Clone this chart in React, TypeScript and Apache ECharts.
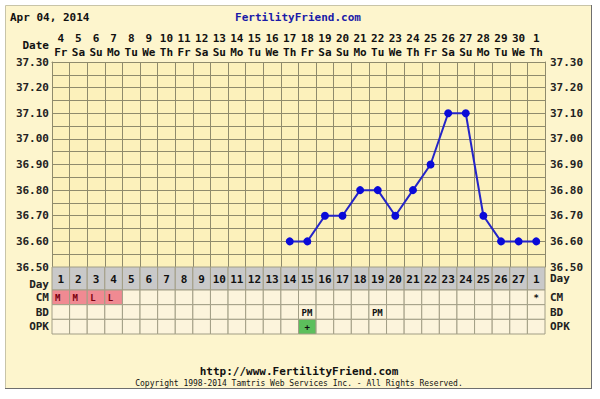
import React, { useEffect, useRef } from 'react';
import * as echarts from 'echarts';

const dates = ['4','5','6','7','8','9','10','11','12','13','14','15','16','17','18','19','20','21','22','23','24','25','26','27','28','29','30','1'];
const weekdays = ['Fr','Sa','Su','Mo','Tu','We','Th','Fr','Sa','Su','Mo','Tu','We','Th','Fr','Sa','Su','Mo','Tu','We','Th','Fr','Sa','Su','Mo','Tu','We','Th'];
const cycleDays = ['1','2','3','4','5','6','7','8','9','10','11','12','13','14','15','16','17','18','19','20','21','22','23','24','25','26','27','1'];
const temps: (number | null)[] = [null,null,null,null,null,null,null,null,null,null,null,null,null,36.6,36.6,36.7,36.7,36.8,36.8,36.7,36.8,36.9,37.1,37.1,36.7,36.6,36.6,36.6];
const cm = ['M','M','L','L','','','','','','','','','','','','','','','','','','','','','','','','*'];
const bd = ['','','','','','','','','','','','','','','PM','','','','PM','','','','','','','','',''];
const opk = ['','','','','','','','','','','','','','','+','','','','','','','','','','','','',''];
const rowNames = ['CM','BD','OPK'];

const FONT = 'DejaVu Sans Mono';
const GRIDC = '#8f8b6c';

export default function App() {
  const ref = useRef<HTMLDivElement>(null);
  useEffect(() => {
    document.body.style.margin = '0';
    const chart = echarts.init(ref.current!, null, { renderer: 'svg' });

    const dayCells = cycleDays.map((d, i) => ({ text: d, fill: '#c9c9c9', color: '#111', center: true }));
    const lowerCells: any[] = [];
    const lowerData: number[][] = [];
    [cm, bd, opk].forEach((row, r) => {
      row.forEach((t, i) => {
        let fill = '#fcf4dc';
        let color = '#111';
        if (r === 0 && t && t !== '*') { fill = '#f08a92'; color = '#7a0010'; }
        if (r === 2 && t) { fill = '#5cbf5c'; }
        lowerCells.push({ text: t, fill, color, center: t === '*' || t === '+' });
        lowerData.push([i, r]);
      });
    });

    const makeRender = (cells: any[], fontSize: number) => (params: any, api: any) => {
      const c = api.coord([api.value(0), api.value(1)]);
      const s = api.size([1, 1]);
      const cell = cells[params.dataIndex];
      const x0 = c[0] - s[0] / 2;
      const y0 = c[1] - s[1] / 2;
      return {
        type: 'group',
        children: [
          { type: 'rect', shape: { x: x0, y: y0, width: s[0], height: s[1] }, style: { fill: cell.fill, stroke: '#a29e86', lineWidth: 1 } },
          { type: 'text', style: { text: cell.text, x: cell.center ? c[0] : x0 + 3, y: c[1] + 0.5, align: cell.center ? 'center' : 'left', verticalAlign: 'middle', fontFamily: FONT, fontWeight: 'bold', fontSize, fill: cell.color } },
        ],
      };
    };

    const lblStyle = { fontFamily: FONT, fontWeight: 'bold' as const, fontSize: 11, color: '#222' };
    const yLabel = (v: number) => (Math.round(v * 100) % 10 === 0 ? v.toFixed(2) : '');

    chart.setOption({
      animation: false,
      backgroundColor: '#ffffff',
      graphic: [
        { type: 'rect', z: -10, shape: { x: 5.5, y: 5.5, width: 586, height: 383 }, style: { fill: '#fdf5cd', stroke: '#c8c4a8', lineWidth: 1 } },
        { type: 'line', z: -9, shape: { x1: 591.5, y1: 5, x2: 591.5, y2: 389 }, style: { stroke: '#6e6e6e', lineWidth: 1 } },
        { type: 'line', z: -9, shape: { x1: 5, y1: 388.5, x2: 592, y2: 388.5 }, style: { stroke: '#6e6e6e', lineWidth: 1 } },
        { type: 'text', style: { text: 'Apr 04, 2014', x: 10, y: 17, verticalAlign: 'middle', fontFamily: FONT, fontWeight: 'bold', fontSize: 11, fill: '#111' } },
        { type: 'text', style: { text: 'FertilityFriend.com', x: 298, y: 17, align: 'center', verticalAlign: 'middle', fontFamily: FONT, fontWeight: 'bold', fontSize: 11, fill: '#1a1aa8' } },
        { type: 'text', style: { text: 'Date', x: 49, y: 45, align: 'right', verticalAlign: 'middle', fontFamily: FONT, fontWeight: 'bold', fontSize: 11, fill: '#111' } },
        { type: 'text', style: { text: 'http://www.FertilityFriend.com', x: 299, y: 371, align: 'center', verticalAlign: 'middle', fontFamily: FONT, fontWeight: 'bold', fontSize: 11, fill: '#111' } },
        { type: 'text', style: { text: 'Copyright 1998-2014 Tamtris Web Services Inc. - All Rights Reserved.', x: 299, y: 383, align: 'center', verticalAlign: 'middle', fontFamily: FONT, fontSize: 8, fill: '#111' } },
      ],
      grid: [
        { left: 52, top: 62, width: 493, height: 205, show: true, backgroundColor: '#fcf1bb', borderWidth: 0 },
        { left: 52, top: 267, width: 493, height: 23 },
        { left: 52, top: 290, width: 493, height: 44 },
      ],
      xAxis: [
        {
          gridIndex: 0, type: 'category', position: 'top', data: dates, boundaryGap: true,
          axisLine: { show: true, lineStyle: { color: GRIDC } }, axisTick: { show: false },
          splitLine: { show: true, interval: 0, lineStyle: { color: GRIDC, width: 1 } },
          axisLabel: {
            interval: 0, margin: 3,
            formatter: (v: string, i: number) => `{d|${v}}\n{w|${weekdays[i]}}`,
            rich: {
              d: { fontFamily: FONT, fontWeight: 'bold', fontSize: 11, color: '#111', lineHeight: 14 },
              w: { fontFamily: FONT, fontWeight: 'bold', fontSize: 11, color: '#111', lineHeight: 14 },
            },
          },
        },
        { gridIndex: 1, type: 'category', data: dates, show: false },
        { gridIndex: 2, type: 'category', data: dates, show: false },
      ],
      yAxis: [
        {
          gridIndex: 0, type: 'value', min: 36.5, max: 37.3, interval: 0.05, position: 'left',
          axisLine: { show: true, lineStyle: { color: GRIDC } }, axisTick: { show: false },
          splitLine: { show: true, lineStyle: { color: GRIDC, width: 1 } },
          axisLabel: { ...lblStyle, margin: 3, formatter: yLabel, showMinLabel: true, showMaxLabel: true },
        },
        {
          gridIndex: 0, type: 'value', min: 36.5, max: 37.3, interval: 0.05, position: 'right',
          axisLine: { show: true, lineStyle: { color: GRIDC } }, axisTick: { show: false },
          splitLine: { show: false },
          axisLabel: { ...lblStyle, margin: 5, formatter: yLabel, showMinLabel: true, showMaxLabel: true },
        },
        { gridIndex: 1, type: 'category', data: ['Day'], position: 'left', axisLine: { show: false }, axisTick: { show: false }, axisLabel: { ...lblStyle, margin: 3, verticalAlign: 'top', padding: [0, 0, 0, 0] } },
        { gridIndex: 1, type: 'category', data: ['Day'], position: 'right', axisLine: { show: false }, axisTick: { show: false }, axisLabel: { ...lblStyle, margin: 5 } },
        { gridIndex: 2, type: 'category', data: rowNames, inverse: true, position: 'left', axisLine: { show: false }, axisTick: { show: false }, axisLabel: { ...lblStyle, margin: 3 } },
        { gridIndex: 2, type: 'category', data: rowNames, inverse: true, position: 'right', axisLine: { show: false }, axisTick: { show: false }, axisLabel: { ...lblStyle, margin: 5 } },
      ],
      series: [
        {
          type: 'line', xAxisIndex: 0, yAxisIndex: 0, data: temps, connectNulls: false,
          symbol: 'circle', symbolSize: 8,
          itemStyle: { color: '#0a0ad8' }, lineStyle: { color: '#2424c8', width: 2 },
          z: 5,
        },
        {
          type: 'custom', xAxisIndex: 1, yAxisIndex: 2,
          data: cycleDays.map((_, i) => [i, 0]),
          encode: { x: 0, y: 1 },
          renderItem: makeRender(dayCells, 11),
        },
        {
          type: 'custom', xAxisIndex: 2, yAxisIndex: 4,
          data: lowerData,
          encode: { x: 0, y: 1 },
          renderItem: makeRender(lowerCells, 9),
        },
      ],
    });
    return () => chart.dispose();
  }, []);
  return <div ref={ref} style={{ position: 'fixed', left: 0, top: 0, width: 600, height: 399 }} />;
}
